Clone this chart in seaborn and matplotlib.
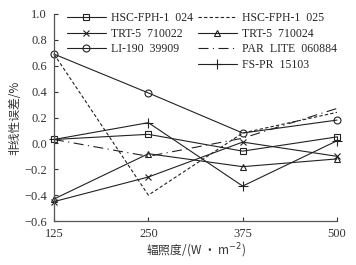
import matplotlib
matplotlib.use('Agg')
import matplotlib.pyplot as plt
from matplotlib.lines import Line2D
import seaborn as sns
import pandas as pd

irradiance = [125, 250, 375, 500]

hsc_024 = [0.03, 0.07, -0.06, 0.05]
hsc_025 = [0.69, -0.40, 0.08, 0.24]
trt_022 = [-0.45, -0.26, 0.01, -0.10]
trt_024 = [-0.43, -0.08, -0.18, -0.12]
li_190 = [0.69, 0.39, 0.08, 0.18]
par_lite = [0.03, -0.10, 0.04, 0.27]
fs_pr = [0.03, 0.16, -0.33, 0.02]

series = [
    ('HSC-FPH-1  024', hsc_024, 's', '-'),
    ('HSC-FPH-1  025', hsc_025, None, (0, (3, 2))),
    ('TRT-5  710022', trt_022, 'x', '-'),
    ('TRT-5  710024', trt_024, '^', '-'),
    ('LI-190  39909', li_190, 'o', '-'),
    ('PAR  LITE  060884', par_lite, None, (0, (9, 4, 1, 4))),
    ('FS-PR  15103', fs_pr, '+', '-'),
]

sns.set_style('ticks')
plt.rcParams['font.family'] = ['Liberation Serif', 'Noto Sans CJK SC']
plt.rcParams['axes.unicode_minus'] = True

fig = plt.figure(figsize=(3.56, 2.65), dpi=100)
ax = fig.add_axes([54 / 356, 1 - 221 / 265, 283 / 356, 207 / 265])

handles = {}
for name, vals, mk, ls in series:
    df = pd.DataFrame({'x': irradiance, 'y': vals})
    ms = 7 if mk == '+' else 5
    sns.lineplot(data=df, x='x', y='y', ax=ax, color='#222222', linewidth=0.8,
                 linestyle=ls, marker=mk if mk else '', markersize=ms,
                 markerfacecolor='none', markeredgecolor='#222222',
                 markeredgewidth=0.8, clip_on=False)
    handles[name] = Line2D([], [], color='#222222', linewidth=0.8, linestyle=ls,
                           marker=mk if mk else '', markersize=ms,
                           markerfacecolor='none', markeredgecolor='#222222',
                           markeredgewidth=0.8)

blank = Line2D([], [], linestyle='none')
order = ['HSC-FPH-1  024', 'TRT-5  710022', 'LI-190  39909', None,
         'HSC-FPH-1  025', 'TRT-5  710024', 'PAR  LITE  060884', 'FS-PR  15103']
leg_h = [handles[n] if n else blank for n in order]
leg_l = [n if n else '' for n in order]
ax.legend(leg_h, leg_l, ncol=2, loc='upper left', bbox_to_anchor=(0.045, 1.01),
          frameon=False, fontsize=8.5, handlelength=3.3, handletextpad=0.45,
          columnspacing=0.4, labelspacing=0.32, borderpad=0, borderaxespad=0)

ax.set_xlim(125, 500)
ax.set_ylim(-0.6, 1.0)
ax.set_xticks(irradiance)
ax.set_yticks([-0.6, -0.4, -0.2, 0.0, 0.2, 0.4, 0.6, 0.8, 1.0])
ax.set_yticklabels(['\u22120.6', '\u22120.4', '\u22120.2', '0.0', '0.2', '0.4', '0.6', '0.8', '1.0'])
ax.tick_params(direction='in', length=3, width=0.8, labelsize=9, colors='#333333', pad=5)
for s in ['top', 'right']:
    ax.spines[s].set_visible(False)
for s in ['left', 'bottom']:
    ax.spines[s].set_linewidth(0.9)
    ax.spines[s].set_color('#555555')

ax.set_xlabel('辐照度/(W · m$^{-2}$)', fontsize=8.5, color='#333333', labelpad=1,
              family=['Noto Sans CJK SC', 'Liberation Serif'])
ax.set_ylabel('非线性误差/%', fontsize=8.5, color='#333333', labelpad=2,
              family=['Noto Sans CJK SC', 'Liberation Serif'])

fig.savefig('out.png', dpi=100)
